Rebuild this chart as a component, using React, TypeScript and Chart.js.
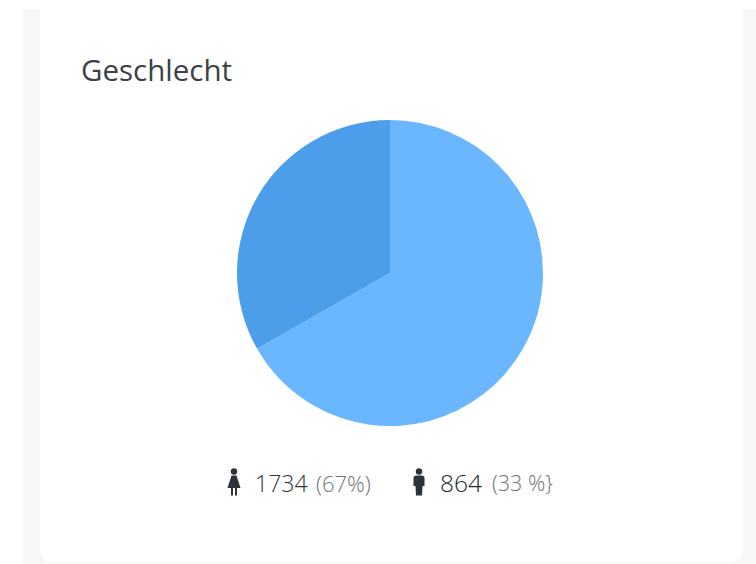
import React, { useEffect, useRef } from "react";
import { Chart, registerables } from "chart.js";

Chart.register(...registerables);

const categories = ["Weiblich", "Männlich"];
const values = [1734, 864];
const sliceColors = ["#6AB7FF", "#4C9EEA"];
const titleText = "Geschlecht";
const countLabels = ["1734", "864"];
const shareLabels = ["(67%)", "(33 %}"];

const font = '"Open Sans", sans-serif';

function Woman({ left }: { left: number }) {
  return (
    <svg width="16" height="30" viewBox="0 0 16 30" style={{ position: "absolute", left, top: 467, filter: "blur(0.4px)" }}>
      <circle cx="8" cy="4.500" r="3.200" fill="#2b323a" />
      <path d="M5.500 8.500h5L14.500 21h-3.500v7.500H9V21H7v7.500H5V21H1.500z" fill="#2b323a" />
    </svg>
  );
}

function Man({ left }: { left: number }) {
  return (
    <svg width="16" height="30" viewBox="0 0 16 30" style={{ position: "absolute", left, top: 467, filter: "blur(0.4px)" }}>
      <circle cx="8" cy="4.500" r="3.200" fill="#2b323a" />
      <path d="M5.500 8.500h5q3 0 3 2.500V19h-2L11 28.500H5L4.500 19h-2V11q0-2.500 3-2.500z" fill="#2b323a" />
    </svg>
  );
}

function Text({ left, top, size, color, weight, children }: any) {
  return (
    <span
      style={{
        position: "absolute",
        left,
        top,
        fontFamily: font,
        fontSize: size,
        fontWeight: weight,
        lineHeight: "34px",
        color,
        whiteSpace: "nowrap",
      }}
    >
      {children}
    </span>
  );
}

export default function App() {
  const ref = useRef<HTMLCanvasElement>(null);
  useEffect(() => {
    const chart = new Chart(ref.current!, {
      type: "pie",
      data: {
        labels: categories,
        datasets: [{ data: values, backgroundColor: sliceColors, borderWidth: 0 }],
      },
      options: {
        animation: false,
        responsive: false,
        layout: { padding: 7 },
        plugins: { legend: { display: false }, tooltip: { enabled: false } },
      },
    });
    return () => chart.destroy();
  }, []);

  return (
    <div style={{ position: "absolute", left: 0, top: 0, width: 756, height: 564, background: "#fff", overflow: "hidden" }}>
      <div style={{ position: "absolute", left: 23, top: 9, width: 733, height: 555, background: "#f6f7f8" }} />
      <div style={{ position: "absolute", left: 40, top: 0, width: 703, height: 563, background: "#fff", borderRadius: 14 }} />
      <Text left={81} top={53} size={29.5} weight={400} color="#3b4148">{titleText}</Text>
      <canvas ref={ref} width={320} height={320} style={{ position: "absolute", left: 230, top: 113, width: 320, height: 320 }} />
      <Woman left={226} />
      <Text left={255} top={466} size={23} weight={300} color="#2f353c">{countLabels[0]}</Text>
      <Text left={316} top={466} size={22} weight={300} color="#6f747b">{shareLabels[0]}</Text>
      <Man left={411} />
      <Text left={440} top={466} size={24.500} weight={300} color="#22282f">{countLabels[1]}</Text>
      <Text left={492} top={466} size={21.500} weight={300} color="#6f747b">{shareLabels[1]}</Text>
    </div>
  );
}
